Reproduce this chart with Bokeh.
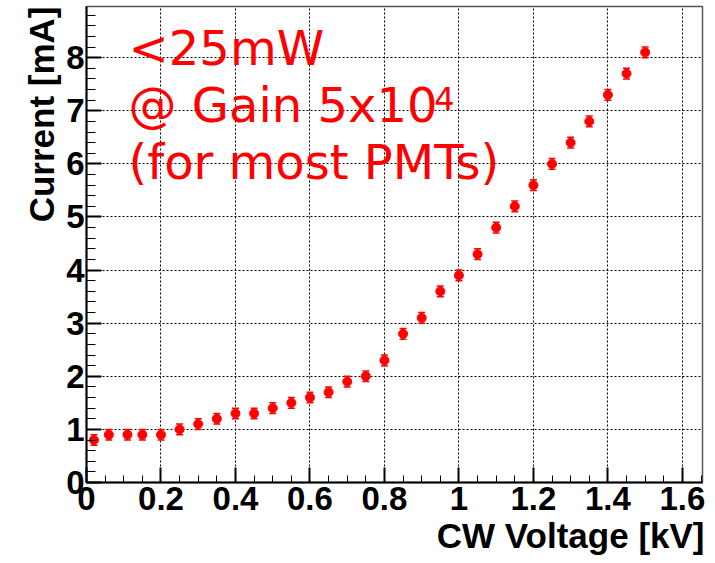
from bokeh.plotting import figure
from bokeh.models import (ColumnDataSource, Whisker, TeeHead, Label, Range1d,
                          FixedTicker, Title)
from bokeh.embed import file_html
from bokeh.resources import INLINE

# ---- data ----
voltage_kv = [0.02, 0.06, 0.11, 0.15, 0.20, 0.25, 0.30, 0.35, 0.40, 0.45, 0.50,
              0.55, 0.60, 0.65, 0.70, 0.75, 0.80, 0.85, 0.90, 0.95, 1.00, 1.05,
              1.10, 1.15, 1.20, 1.25, 1.30, 1.35, 1.40, 1.45, 1.50]
current_ma = [0.8, 0.9, 0.9, 0.9, 0.9, 1.0, 1.1, 1.2, 1.3, 1.3, 1.4,
              1.5, 1.6, 1.7, 1.9, 2.0, 2.3, 2.8, 3.1, 3.6, 3.9, 4.3,
              4.8, 5.2, 5.6, 6.0, 6.4, 6.8, 7.3, 7.7, 8.1]
current_err = [0.1, 0.1, 0.1, 0.1, 0.1, 0.1, 0.1, 0.1, 0.1, 0.1, 0.1,
               0.1, 0.1, 0.1, 0.1, 0.1, 0.1, 0.1, 0.1, 0.1, 0.1, 0.1,
               0.1, 0.1, 0.1, 0.1, 0.1, 0.1, 0.1, 0.1, 0.1]

x_ticks = [0, 0.2, 0.4, 0.6, 0.8, 1.0, 1.2, 1.4, 1.6]
x_tick_labels = ["0", "0.2", "0.4", "0.6", "0.8", "1", "1.2", "1.4", "1.6"]
y_ticks = [0, 1, 2, 3, 4, 5, 6, 7, 8]
y_tick_labels = ["0", "1", "2", "3", "4", "5", "6", "7", "8"]

x_title = "CW Voltage [kV]"
y_title = "Current [mA]"
note_lines = ["<25mW", "@ Gain 5x10", "(for most PMTs)"]
note_sup = "4"

X_MAX = 1.654
Y_MAX = 8.964

src = ColumnDataSource(dict(
    x=voltage_kv,
    y=current_ma,
    lo=[c - e for c, e in zip(current_ma, current_err)],
    hi=[c + e for c, e in zip(current_ma, current_err)],
))

p = figure(width=715, height=563, output_backend="svg", toolbar_location=None,
           x_range=Range1d(0, X_MAX), y_range=Range1d(0, Y_MAX),
           min_border_left=86, min_border_right=13, min_border_top=6,
           min_border_bottom=81, background_fill_color="white",
           border_fill_color="white")

p.outline_line_color = "#555555"
p.outline_line_width = 1.5

x_minor = [round(i * 0.05, 2) for i in range(0, 34)]
y_minor = [round(i * 0.2, 1) for i in range(0, 45)]
p.xaxis.ticker = FixedTicker(ticks=x_ticks, minor_ticks=x_minor)
p.yaxis.ticker = FixedTicker(ticks=y_ticks, minor_ticks=y_minor)
p.xaxis.major_label_overrides = {float(t): l for t, l in zip(x_ticks, x_tick_labels)}
p.yaxis.major_label_overrides = {float(t): l for t, l in zip(y_ticks, y_tick_labels)}

for ax in (p.xaxis[0], p.yaxis[0]):
    ax.axis_line_width = 2
    ax.axis_line_color = "black"
    ax.major_tick_out = 0
    ax.minor_tick_out = 0
    ax.major_tick_line_width = 2
    ax.minor_tick_line_width = 1
    ax.major_label_text_font = "Liberation Sans"
    ax.major_label_text_font_style = "bold"
    ax.major_label_text_font_size = "33px"
    ax.major_label_text_color = "black"

p.xaxis.major_tick_in = 15
p.xaxis.minor_tick_in = 7
p.yaxis.major_tick_in = 15
p.yaxis.minor_tick_in = 9
p.xaxis.major_label_standoff = 4
p.yaxis.major_label_standoff = 2

p.xgrid.ticker = FixedTicker(ticks=x_ticks)
p.ygrid.ticker = FixedTicker(ticks=y_ticks)
for g in (p.xgrid[0], p.ygrid[0]):
    g.grid_line_color = "black"
    g.grid_line_dash = "2 2"
    g.grid_line_width = 1

w = Whisker(base="x", lower="lo", upper="hi", source=src,
            line_color="red", line_width=1.5,
            upper_head=TeeHead(size=7, line_color="red", line_width=1.5),
            lower_head=TeeHead(size=7, line_color="red", line_width=1.5))
p.add_layout(w)
p.scatter("x", "y", source=src, size=9, color="red")

# axis titles (right/top aligned like ROOT), placed in the side panels
p.add_layout(Title(text=x_title, align="right", text_font="Liberation Sans",
                   text_font_style="bold", text_font_size="35px",
                   text_color="black", standoff=3, offset=-2), "below")
p.add_layout(Title(text=y_title, align="right", text_font="Liberation Sans",
                   text_font_style="bold", text_font_size="35px",
                   text_color="black", standoff=5, offset=0), "left")

# red annotation
note_y = [8.18, 7.11, 6.04]
for t, yy in zip(note_lines, note_y):
    p.add_layout(Label(x=0.113, y=yy, text=t, text_align="left",
                       text_baseline="alphabetic", text_font="DejaVu Sans",
                       text_font_size="48px", text_color="red"))
p.add_layout(Label(x=0.934, y=7.23, text=note_sup, text_align="left",
                   text_baseline="alphabetic", text_font="DejaVu Sans",
                   text_font_size="32px", text_color="red"))

open("out.html", "w").write(file_html(p, INLINE))
